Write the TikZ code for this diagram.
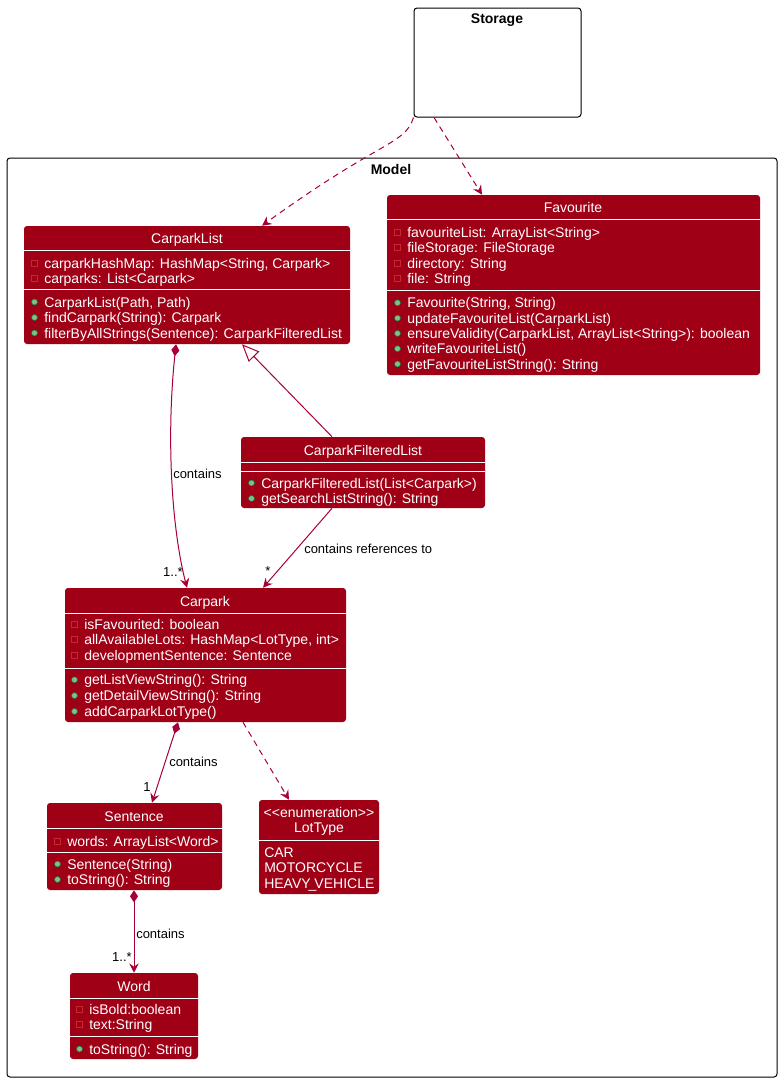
\documentclass[tikz,border=0pt]{standalone}
\usepackage{fontspec}
\newfontfamily\umlfont{Liberation Sans}
\usetikzlibrary{arrows.meta,fit}
\definecolor{classred}{HTML}{A00016}
\definecolor{linkred}{HTML}{A80036}
\definecolor{privred}{HTML}{C82930}
\definecolor{pubgreen}{HTML}{84BE84}
\definecolor{pubdark}{HTML}{038048}

\begin{document}
\begin{tikzpicture}[x=0.75pt, y=-0.75pt,
    klass/.style={fill=classred, rounded corners=2.25pt, inner sep=0pt},
    frame/.style={draw=black, line width=0.75pt, rounded corners=2.25pt, inner sep=0pt},
    ktitle/.style={text=white, inner sep=0pt, font=\umlfont\fontsize{10.5}{12}\selectfont, text height=7.5pt, text depth=0pt},
    kitem/.style={ktitle, anchor=west},
    btitle/.style={inner sep=0pt, font=\umlfont\bfseries\fontsize{10.5}{12}\selectfont, text height=7.5pt, text depth=0pt},
    lbl/.style={inner sep=0pt, font=\umlfont\fontsize{9.75}{11}\selectfont, text height=7pt, text depth=0pt},
    sep/.style={white, line width=0.75pt},
    privicon/.style={draw=privred, line width=0.6pt},
    pubicon/.style={fill=pubgreen, draw=pubdark, line width=0.4pt},
    link/.style={draw=linkred, line width=0.75pt},
    dep/.style={link, dash pattern=on 4.5pt off 3.5pt, -{Stealth[length=7pt, width=7pt, inset=2.5pt]}},
    own/.style={link, {Diamond[length=9pt, width=6pt]}-{Stealth[length=7pt, width=7pt, inset=2.5pt]}},
    gen/.style={link, -{Triangle[open, length=13pt, width=11pt, fill=white]}},
    ref/.style={link, -{Stealth[length=7pt, width=7pt, inset=2.5pt]}}]
    \useasboundingbox (0,0) rectangle (781,1082);

    % Pacchetti
    \node[frame, fill=white, fit={(414,8) (581,117)}] (storage) {};
    \node[btitle] (storage-name) at (497,18) {Storage};
    \node[frame, fit={(7,158) (777,1077)}] (model) {};
    \node[btitle] (model-name) at (391,169) {Model};

    % CarparkList
    \node[klass, fit={(24,226) (350,344)}] (clist) {};
    \node[ktitle] (clist-name) at (187,238) {CarparkList};
    \draw[sep] (24,250) -- (350,250) (24,289) -- (350,289);
    \foreach \txt [count=\i] in {{carparkHashMap: HashMap<String, Carpark>}, {carparks: List<Carpark>}}
        {\node[kitem] (clist-f\i) at (44,{247.5+15.5*\i}) {\txt};
         \draw[privicon] (clist-f\i.west) ++(-12.5,-3) rectangle ++(6,6);}
    \foreach \txt [count=\i] in {{CarparkList(Path, Path)}, {findCarpark(String): Carpark}, {filterByAllStrings(Sentence): CarparkFilteredList}}
        {\node[kitem] (clist-m\i) at (44,{286.5+15.5*\i}) {\txt};
         \draw[pubicon] (clist-m\i.west) ++(-9.5,0) circle (3);}

    % Favourite
    \node[klass, fit={(387,195) (760,375)}] (fav) {};
    \node[ktitle] (fav-name) at (573,207) {Favourite};
    \draw[sep] (387,219) -- (760,219) (387,290) -- (760,290);
    \foreach \txt [count=\i] in {{favouriteList: ArrayList<String>}, {fileStorage: FileStorage}, {directory: String}, {file: String}}
        {\node[kitem] (fav-f\i) at (407,{216.5+15.5*\i}) {\txt};
         \draw[privicon] (fav-f\i.west) ++(-12.5,-3) rectangle ++(6,6);}
    \foreach \txt [count=\i] in {{Favourite(String, String)}, {updateFavouriteList(CarparkList)}, {ensureValidity(CarparkList, ArrayList<String>): boolean}, {writeFavouriteList()}, {getFavouriteListString(): String}}
        {\node[kitem] (fav-m\i) at (407,{287.5+15.3*\i}) {\txt};
         \draw[pubicon] (fav-m\i.west) ++(-9.5,0) circle (3);}

    % CarparkFilteredList
    \node[klass, fit={(241,437) (485,508)}] (cfl) {};
    \node[ktitle] (cfl-name) at (363,450) {CarparkFilteredList};
    \draw[sep] (241,462) -- (485,462) (241,471) -- (485,471);
    \foreach \txt [count=\i] in {{CarparkFilteredList(List<Carpark>)}, {getSearchListString(): String}}
        {\node[kitem] (cfl-m\i) at (261,{467.5+15.5*\i}) {\txt};
         \draw[pubicon] (cfl-m\i.west) ++(-9.5,0) circle (3);}

    % Carpark
    \node[klass, fit={(65,588) (346,722)}] (carpark) {};
    \node[ktitle] (carpark-name) at (205,601) {Carpark};
    \draw[sep] (65,613) -- (346,613) (65,668) -- (346,668);
    \foreach \txt [count=\i] in {{isFavourited: boolean}, {allAvailableLots: HashMap<LotType, int>}, {developmentSentence: Sentence}}
        {\node[kitem] (carpark-f\i) at (84,{608.5+15.5*\i}) {\txt};
         \draw[privicon] (carpark-f\i.west) ++(-12.5,-3) rectangle ++(6,6);}
    \foreach \txt [count=\i] in {{getListViewString(): String}, {getDetailViewString(): String}, {addCarparkLotType()}}
        {\node[kitem] (carpark-m\i) at (84,{664+15.8*\i}) {\txt};
         \draw[pubicon] (carpark-m\i.west) ++(-9.5,0) circle (3);}

    % Sentence
    \node[klass, fit={(47,803) (222,890)}] (sentence) {};
    \node[ktitle] (sentence-name) at (134,816) {Sentence};
    \draw[sep] (47,828) -- (222,828) (47,852) -- (222,852);
    \node[kitem] (sentence-f1) at (67,841) {words: ArrayList<Word>};
    \draw[privicon] (sentence-f1.west) ++(-12.5,-3) rectangle ++(6,6);
    \foreach \txt [count=\i] in {{Sentence(String)}, {toString(): String}}
        {\node[kitem] (sentence-m\i) at (67,{848.5+15.5*\i}) {\txt};
         \draw[pubicon] (sentence-m\i.west) ++(-9.5,0) circle (3);}

    % LotType
    \node[klass, fit={(259,800) (379,894)}] (lottype) {};
    \node[ktitle] (lottype-stereo) at (319,812) {<<enumeration>>};
    \node[ktitle] (lottype-name) at (319,827) {LotType};
    \draw[sep] (259,840) -- (379,840);
    \foreach \txt [count=\i] in {CAR, MOTORCYCLE, {HEAVY\kern-1.5pt\_\kern-1.5pt VEHICLE}}
        \node[kitem] (lottype-v\i) at (264,{836.5+15.5*\i}) {\txt};

    % Word
    \node[klass, fit={(70,973) (198,1059)}] (word) {};
    \node[ktitle] (word-name) at (134,986) {Word};
    \draw[sep] (70,998) -- (198,998) (70,1036) -- (198,1036);
    \foreach \txt [count=\i] in {{isBold:boolean}, {text:String}}
        {\node[kitem] (word-f\i) at (89,{993.5+15.5*\i}) {\txt};
         \draw[privicon] (word-f\i.west) ++(-12.5,-3) rectangle ++(6,6);}
    \node[kitem] (word-m1) at (89,1049) {toString(): String};
    \draw[pubicon] (word-m1.west) ++(-9.5,0) circle (3);

    % Relazioni
    \draw[dep] (storage.south west) .. controls (405,145) and (380,140) .. (clist.north -| 262,0);
    \draw[dep] (storage.south -| 434,0) -- (fav.north -| 482,0);
    \draw[gen] (cfl.north -| 332,0) -- (clist.south -| 242,0);
    \draw[own] (clist.south -| 176,0) .. controls (166,440) and (172,530) .. (carpark.north -| 187,0);
    \draw[ref] (cfl.south -| 332,0) -- (carpark.north -| 263,0);
    \draw[own] (carpark.south -| 178,0) -- (sentence.north -| 152,0);
    \draw[dep] (carpark.south -| 243,0) -- (lottype.north -| 289,0);
    \draw[own] (sentence.south -| 134,0) -- (word.north -| 134,0);

    % Etichette
    \node[lbl, anchor=west] (own1-name) at (173,474) {contains};
    \node[lbl] (own1-mult) at (173,572) {1..*};
    \node[lbl, anchor=west] (ref-name) at (304,549) {contains references to};
    \node[lbl] (ref-mult) at (268,571) {*};
    \node[lbl, anchor=west] (own2-name) at (169,762) {contains};
    \node[lbl] (own2-mult) at (147,787) {1};
    \node[lbl, anchor=west] (own3-name) at (136,934) {contains};
    \node[lbl] (own3-mult) at (122,957) {1..*};
\end{tikzpicture}
\end{document}
